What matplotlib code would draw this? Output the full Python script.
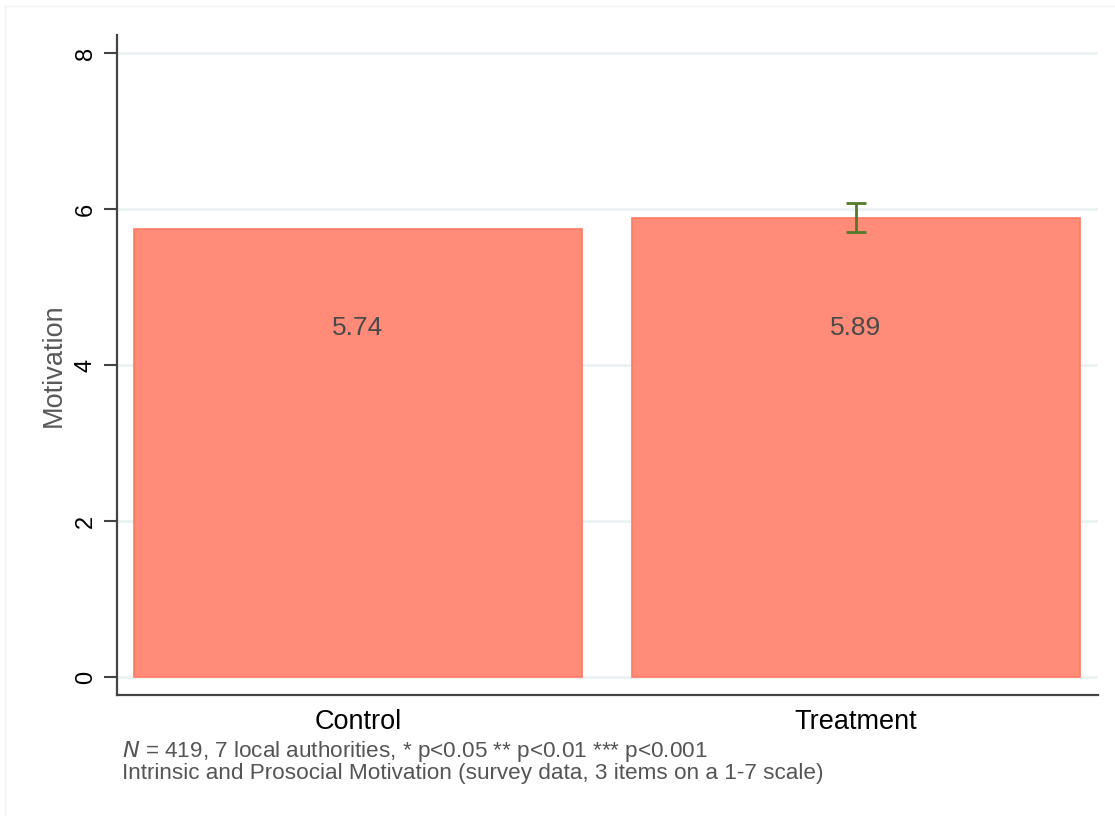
import matplotlib
matplotlib.use("Agg")
import matplotlib.pyplot as plt
from matplotlib.lines import Line2D

plt.rcParams['font.family'] = ['Liberation Sans', 'DejaVu Sans']

categories = ["Control", "Treatment"]
means = [5.74, 5.89]
labels = ["5.74", "5.89"]
err_low = [None, 0.185]
err_high = [None, 0.185]
yticks = [0, 2, 4, 6, 8]
label_y = 4.47
ylabel = "Motivation"
note1 = r"$\it{N}$ = 419, 7 local authorities, * p<0.05 ** p<0.01 *** p<0.001"
note2 = "Intrinsic and Prosocial Motivation (survey data, 3 items on a 1-7 scale)"

fig = plt.figure(figsize=(11.15, 8.16), dpi=100)
ax = fig.add_axes([117/1115, 1-695/816, (1098-117)/1115, (695-35)/816])

x = list(range(len(categories)))
ax.bar(x, means, width=0.9, color="#FF8B78", edgecolor="#FF7A64", linewidth=1.2, zorder=2)

for i in x:
    if err_low[i] is not None:
        ax.errorbar(i, means[i], yerr=[[err_low[i]], [err_high[i]]], fmt="none",
                    ecolor="#527A2A", elinewidth=2, capsize=7.5, capthick=2, zorder=3)
    ax.text(i, label_y, labels[i], ha="center", va="center", fontsize=19, color="#4A4A4A", zorder=4)

ax.set_xlim(-0.484, 1.486)
ax.set_ylim(-0.231, 8.23)
ax.set_yticks(yticks)
ax.set_yticklabels([str(t) for t in yticks], rotation=90, va="center", fontsize=17)
ax.set_xticks(x)
ax.set_xticklabels(categories, fontsize=19.5)
ax.tick_params(axis="x", length=0, pad=10)
ax.tick_params(axis="y", length=9.5, width=1.5, color="#444444", pad=5)
ax.grid(axis="y", color="#EAF2F3", linewidth=2, zorder=0)
ax.set_axisbelow(True)
for s in ["top", "right"]:
    ax.spines[s].set_visible(False)
for s in ["left", "bottom"]:
    ax.spines[s].set_color("#444444")
    ax.spines[s].set_linewidth(1.6)
ax.set_ylabel(ylabel, fontsize=19.5, color="#595959", labelpad=5.5)

fig.text(122/1115, 1-757/816, note1, fontsize=16.2, color="#555555", va="baseline")
fig.text(122/1115, 1-779/816, note2, fontsize=16.2, color="#555555", va="baseline")

fig.add_artist(Line2D([5/1115, 5/1115], [0, 1-6/816], transform=fig.transFigure, color="#F2F2F2", lw=1))
fig.add_artist(Line2D([5/1115, 1], [1-6/816, 1-6/816], transform=fig.transFigure, color="#F2F2F2", lw=1))

fig.savefig("out.png", dpi=100)
